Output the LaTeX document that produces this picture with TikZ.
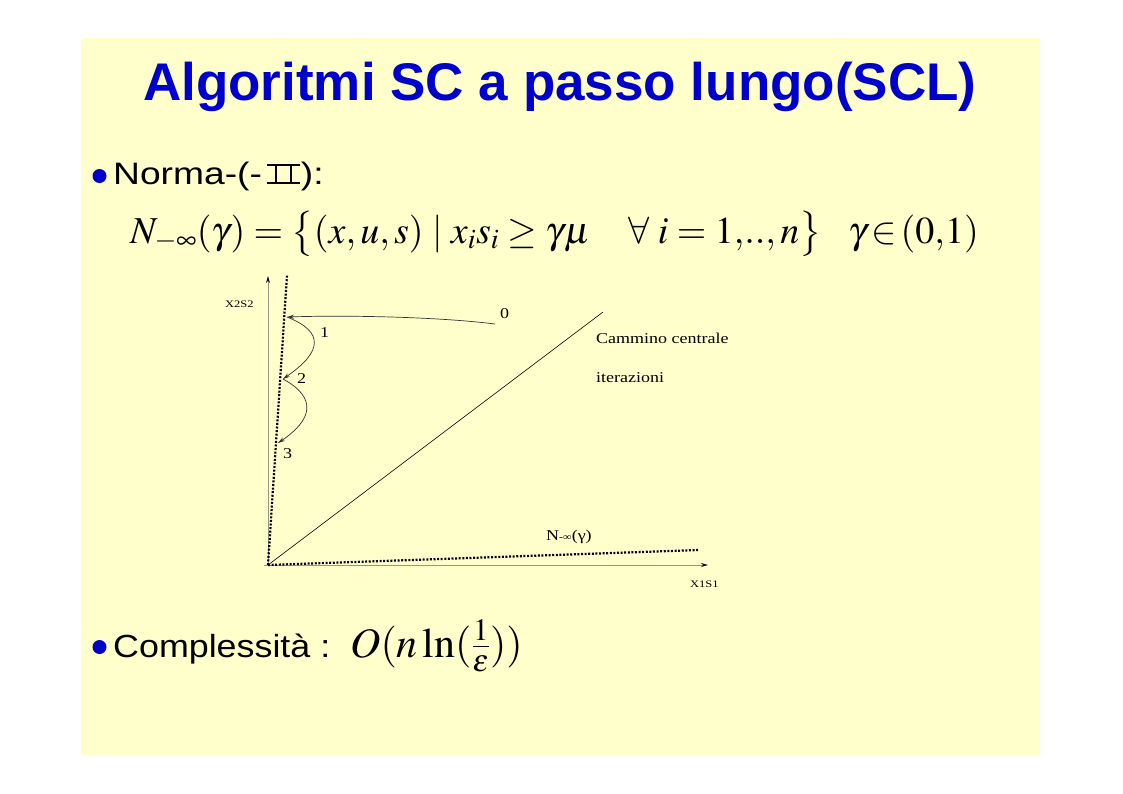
\documentclass[tikz,border=0pt]{standalone}
\usepackage{amsmath}
\usepackage{mathptmx}
\usepackage{fontspec}
\setmainfont{Liberation Serif}
\setsansfont{Liberation Sans}
\usepackage{graphicx}
\usetikzlibrary{arrows.meta}
\definecolor{slidebg}{RGB}{255,255,204}
\definecolor{titleblue}{RGB}{0,0,204}
\definecolor{axisgray}{RGB}{150,150,130}
\newcommand{\hs}[2]{\scalebox{#1}[1]{#2}}
% Roman numeral two (thin serif form), built from rules
\newcommand{\romtwo}{\makebox[33pt][l]{\rule{33pt}{1.7pt}\hspace{-33pt}\rule[18.5pt]{33pt}{1.7pt}\hspace{-33pt}\hspace{8pt}\rule{1.9pt}{20pt}\hspace{13pt}\rule{1.9pt}{20pt}}}
\tikzset{
  txt/.style={inner sep=0pt, anchor=base west},
  lbl/.style={inner sep=0pt, anchor=base west, font=\fontsize{15}{18}\selectfont},
  small/.style={inner sep=0pt, anchor=base west, font=\fontsize{10}{12}\selectfont},
  axis/.style={draw=axisgray, line width=1pt, -{Stealth[length=7pt,width=4pt,color=black]}},
  bound/.style={draw=black, line width=2.2pt, dash pattern=on 2pt off 1.6pt},
  itpath/.style={draw=black!80, line width=0.7pt, -{Stealth[length=7pt,width=4pt]}},
  bullet/.style={circle, fill=titleblue, inner sep=0pt, minimum size=14pt},
  mathbig/.style={inner sep=0pt, anchor=base west, font=\fontsize{38}{46}\selectfont}
}
\begin{document}
\begin{tikzpicture}[x=1pt,y=-1pt]
\useasboundingbox (0,0) rectangle (1123,793);
\fill[white] (0,0) rectangle (1123,793);
\fill[slidebg] (81,38) rectangle (1040,755);

% title
\node[txt, font=\sffamily\bfseries\fontsize{53}{60}\selectfont, text=titleblue] (title) at (143,100) {Algoritmi SC a passo lungo(SCL)};

% bullet 1
\node[bullet] (b1) at (99.5,176) {};
\node[txt, font=\sffamily\fontsize{31}{36}\selectfont] (norma) at (113,184) {\hs{1.2}{Norma-(-}\hspace{5pt}\romtwo\hspace{1pt}\hs{1.2}{):}};
\node[mathbig] (formula) at (130,243) {$\medmuskip=3mu\thickmuskip=4mu N_{-\infty}(\gamma)=\bigl\{(x, u, s)\mid x_i s_i\geq\gamma\mu\quad\forall\; i=1{,}..{,}\, n\bigr\}$};
\node[mathbig] (gamma) at (848,243) {$\thickmuskip=2mu\gamma\in(0{,}1)$};

% diagram
\coordinate (O) at (268,565);
\coordinate (ytop) at (268,276);
\coordinate (xend) at (708,565);
\coordinate (bv) at (287,275);
\coordinate (bh) at (698,550);
\coordinate (cc) at (603,312);
\coordinate (p0) at (495,324);
\coordinate (p1) at (287,317);
\coordinate (p2) at (283,379);
\coordinate (p3) at (278,443);

\draw[axis] (264,565) -- (xend);
\draw[axis] (O) -- (ytop);
\draw[bound] (O) -- (bv);
\draw[bound] (O) -- (bh);
\draw[black, line width=0.6pt] (O) -- (cc);

\draw[itpath] (p0) .. controls (440,317) and (350,315) .. (p1);
\draw[itpath] (p1) .. controls (325,332) and (322,352) .. (p2);
\draw[itpath] (p2) .. controls (318,398) and (312,420) .. (p3);

\node[small] (x2s2) at (225,307) {\hs{1.25}{X2S2}};
\node[small] (x1s1) at (690,587) {\hs{1.25}{X1S1}};
\node[lbl] (l0) at (500,318) {\hs{1.2}{0}};
\node[lbl] (l1) at (320,337) {\hs{1.2}{1}};
\node[lbl] (l2) at (297,383) {\hs{1.2}{2}};
\node[lbl] (l3) at (283,458) {\hs{1.2}{3}};
\node[lbl] (cam) at (596,343) {\hs{1.2}{Cammino centrale}};
\node[lbl] (iter) at (596,382) {\hs{1.2}{iterazioni}};
\node[lbl] (ninf) at (546,540) {\hs{1.2}{N{\fontsize{10}{12}\selectfont -∞}(γ)}};

% bullet 2
\node[bullet] (b2) at (99.5,647) {};
\node[txt, font=\sffamily\fontsize{32}{36}\selectfont] (compl) at (113,657) {\hs{1.12}{Complessità :}};
\node[txt, font=\fontsize{42}{50}\selectfont] (order) at (350,657) {$O(n\ln(\tfrac{1}{\varepsilon}))$};
\end{tikzpicture}
\end{document}
